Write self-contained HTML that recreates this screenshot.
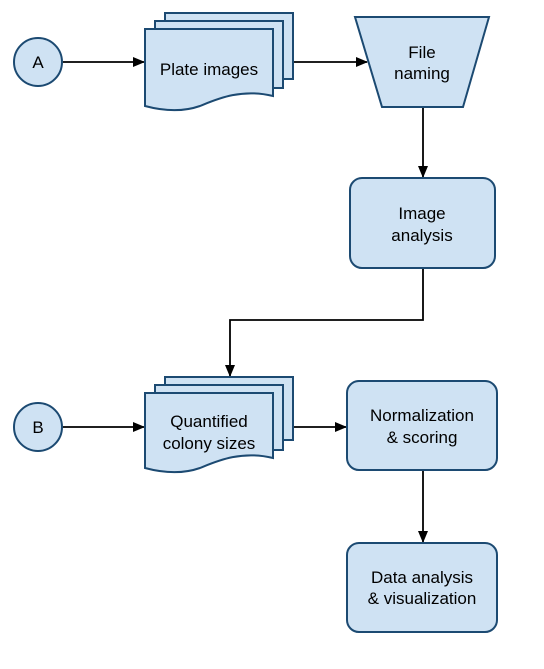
<!DOCTYPE html>
<html><head><style>body{margin:0;background:#fff}</style></head><body>
<svg width="544" height="664" viewBox="0 0 544 664" xmlns="http://www.w3.org/2000/svg" font-family="Liberation Sans, sans-serif" font-size="17" fill="#000">
<defs><marker id="ar" markerWidth="12" markerHeight="10" refX="11" refY="5" orient="auto" markerUnits="userSpaceOnUse"><path d="M0,0 L12,5 L0,10 z" fill="#000"/></marker></defs>
<g stroke="#000" stroke-width="1.8" fill="none" marker-end="url(#ar)">
<line x1="63" y1="62" x2="144" y2="62"/>
<line x1="293" y1="62" x2="367" y2="62"/>
<line x1="423" y1="107" x2="423" y2="177"/>
<polyline points="423,268 423,320 230,320 230,376"/>
<line x1="63" y1="427" x2="144" y2="427"/>
<line x1="293" y1="427" x2="346" y2="427"/>
<line x1="423" y1="470" x2="423" y2="542"/>
</g>
<g fill="#cfe2f3" stroke="#1c4a72" stroke-width="2">
<circle cx="38" cy="62" r="24"/>
<circle cx="38" cy="427" r="24"/>
<rect x="165" y="13" width="128" height="66"/>
<rect x="155" y="21" width="128" height="67"/>
<path d="M145,29 H273 V96 C240,88 215,100 200,106 C180,113 160,110 145,106 Z"/>
<rect x="165" y="377" width="128" height="63"/>
<rect x="155" y="385" width="128" height="65"/>
<path d="M145,393 H273 V458 C240,450 215,462 200,468 C180,475 160,472 145,468 Z"/>
<path d="M355,17 H489 L463,107 H382 Z"/>
<rect x="350" y="178" width="145" height="90" rx="12"/>
<rect x="347" y="381" width="150" height="89" rx="12"/>
<rect x="347" y="543" width="150" height="89" rx="12"/>
</g>
<g text-anchor="middle">
<text x="38" y="68">A</text>
<text x="38" y="433">B</text>
<text x="209" y="75">Plate images</text>
<text x="422" y="58">File</text>
<text x="422" y="79">naming</text>
<text x="422" y="219">Image</text>
<text x="422" y="241">analysis</text>
<text x="209" y="427">Quantified</text>
<text x="209" y="449">colony sizes</text>
<text x="422" y="421">Normalization</text>
<text x="422" y="443">&amp; scoring</text>
<text x="422" y="583">Data analysis</text>
<text x="422" y="604">&amp; visualization</text>
</g>
</svg>
</body></html>
